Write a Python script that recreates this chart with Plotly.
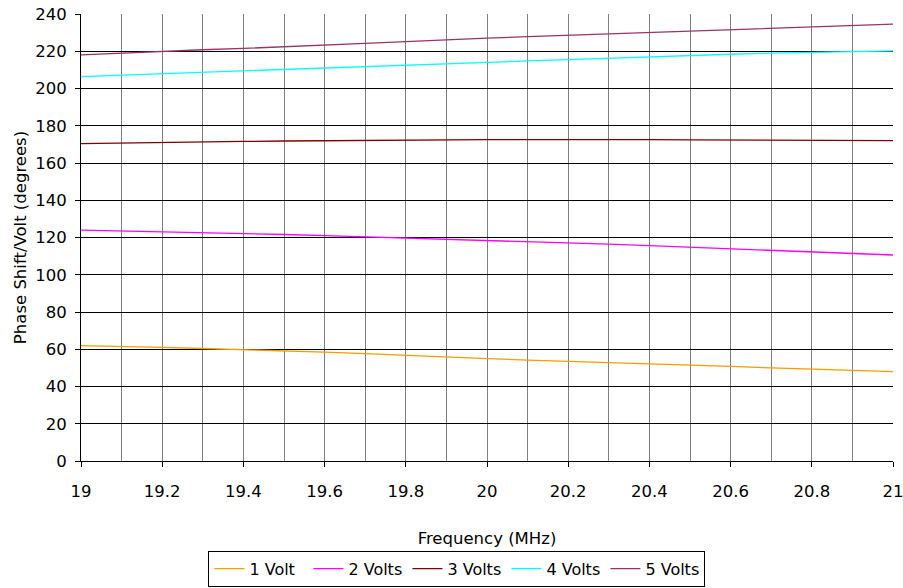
import plotly.graph_objects as go

freq = [19.0, 19.1, 19.2, 19.3, 19.4, 19.5, 19.6, 19.7, 19.8, 19.9, 20.0,
        20.1, 20.2, 20.3, 20.4, 20.5, 20.6, 20.7, 20.8, 20.9, 21.0]
v1 = [62.0, 61.6, 61.0, 60.4, 59.8, 59.2, 58.5, 57.6, 56.6, 55.8, 55.0,
      54.2, 53.6, 52.8, 52.0, 51.4, 50.8, 50.0, 49.4, 48.6, 48.0]
v2 = [124.0, 123.6, 123.0, 122.6, 122.0, 121.6, 121.0, 120.4, 119.6, 119.0, 118.6,
      117.8, 117.2, 116.4, 115.6, 114.8, 114.0, 113.4, 112.6, 111.6, 110.6]
v3 = [170.4, 170.8, 171.0, 171.3, 171.6, 171.8, 172.0, 172.2, 172.3, 172.4, 172.5,
      172.5, 172.6, 172.5, 172.5, 172.4, 172.3, 172.2, 172.1, 172.0, 172.0]
v4 = [206.4, 207.2, 208.0, 208.8, 209.5, 210.3, 211.0, 211.8, 212.6, 213.3, 214.0,
      214.8, 215.5, 216.3, 217.0, 217.8, 218.4, 219.0, 219.5, 219.8, 220.2]
v5 = [218.0, 219.0, 220.0, 220.8, 221.5, 222.3, 223.2, 224.2, 225.2, 226.2, 227.0,
      227.8, 228.6, 229.4, 230.2, 231.0, 231.8, 232.5, 233.2, 234.0, 234.6]

names = ["1 Volt", "2 Volts", "3 Volts", "4 Volts", "5 Volts"]
series = [v1, v2, v3, v4, v5]
colors = ["#FF9900", "#FF00FF", "#800000", "#00FFFF", "#993366"]

fig = go.Figure()
for n, s, c in zip(names, series, colors):
    fig.add_trace(go.Scatter(x=freq, y=s, mode="lines", name=n,
                             line=dict(color=c, width=1.3)))

FS = 16.5
font = dict(family="DejaVu Sans, Verdana, sans-serif", size=FS, color="#000000")

fig.update_layout(
    width=903, height=588,
    margin=dict(l=81, r=10, t=14, b=127, autoexpand=False),
    paper_bgcolor="white", plot_bgcolor="white",
    font=font,
    showlegend=True,
    legend=dict(orientation="h", xref="container", yref="container",
                x=0.506, xanchor="center", y=0.002, yanchor="bottom",
                bordercolor="#000000", borderwidth=1, font=dict(size=16),
                entrywidth=54, entrywidthmode="pixels", tracegroupgap=0),
    xaxis=dict(range=[19, 21], dtick=0.2, tick0=19, showgrid=True,
               gridcolor="#808080", gridwidth=1,
               minor=dict(dtick=0.1, showgrid=True, gridcolor="#808080", gridwidth=1),
               ticks="outside", ticklen=5, tickcolor="#000000",
               ticklabelstandoff=10, ticklabeloverflow="allow",
               showline=True, linecolor="#000000", linewidth=1, mirror=False,
               zeroline=False, automargin=False,
               title=dict(text="Frequency (MHz)", standoff=32, font=dict(size=FS))),
    yaxis=dict(range=[0, 240], dtick=20, showgrid=True,
               gridcolor="#000000", gridwidth=1,
               ticks="outside", ticklen=5, tickcolor="#000000",
               ticklabelstandoff=5,
               showline=True, linecolor="#000000", linewidth=1,
               zeroline=False, automargin=False,
               title=dict(text="Phase Shift/Volt (degrees)", standoff=4, font=dict(size=FS))),
)

fig.write_html("out.html", config={"displayModeBar": False},
               post_script="document.body.style.margin='0px';document.body.style.overflow='hidden';")
